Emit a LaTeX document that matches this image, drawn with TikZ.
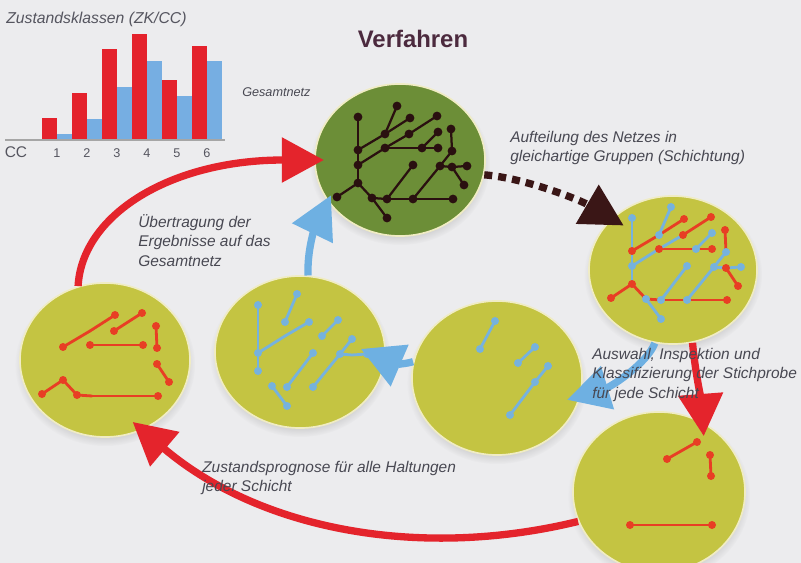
\documentclass[tikz,border=0pt]{standalone}
\usepackage{fontspec}
\setmainfont{Liberation Sans}
\usepackage{xcolor}
\usetikzlibrary{arrows.meta,shapes.geometric,shadows,fadings}

\definecolor{bgpaper}{RGB}{236,236,238}
\definecolor{olive}{RGB}{196,196,66}
\definecolor{netgreen}{RGB}{108,142,55}
\definecolor{netdark}{RGB}{42,16,16}
\definecolor{dashdark}{RGB}{58,22,22}
\definecolor{rim}{RGB}{240,236,196}
\definecolor{stratred}{RGB}{232,62,36}
\definecolor{stratblue}{RGB}{118,178,222}
\definecolor{arrred}{RGB}{228,36,44}
\definecolor{arrblue}{RGB}{110,176,226}
\definecolor{barred}{RGB}{228,34,44}
\definecolor{barblue}{RGB}{118,174,226}
\definecolor{labelgray}{RGB}{72,72,82}
\definecolor{chartgray}{RGB}{85,85,95}
\definecolor{titleplum}{RGB}{76,42,62}

\newcommand{\netpoints}{%
  \coordinate (a) at (-3,-54);  \coordinate (b) at (-42,-43);
  \coordinate (c) at (10,-42);  \coordinate (d) at (37,-44);
  \coordinate (e) at (-15,-26); \coordinate (f) at (9,-26);
  \coordinate (g) at (38,-28);  \coordinate (h) at (51,-31);
  \coordinate (i) at (-42,-10); \coordinate (j) at (-15,-12);
  \coordinate (k) at (22,-12);  \coordinate (l) at (38,-12);
  \coordinate (m) at (52,-9);   \coordinate (n) at (-42,5);
  \coordinate (o) at (13,5);    \coordinate (p) at (40,6);
  \coordinate (q) at (52,7);    \coordinate (r) at (67,6);
  \coordinate (s) at (-42,23);  \coordinate (t) at (64,25);
  \coordinate (u) at (-63,37);  \coordinate (v) at (-28,38);
  \coordinate (w) at (-13,39);  \coordinate (x) at (13,39);
  \coordinate (y) at (53,39);   \coordinate (z) at (-13,58);
}
\newcommand{\redsegs}{i/e,e/c,f/d,j/k,k/l,h/m,q/t,u/s,s/v,v/w,w/x,x/y}
\newcommand{\bluesegs}{b/i,i/n,n/s,n/j,j/f,a/e,k/g,m/p,p/x,p/q,q/r,o/w,v/z}

\begin{document}
\begin{tikzpicture}[x=0.025cm, y=-0.025cm,
    blob/.style={ellipse, draw=rim, line width=1.2pt, fill=olive, inner sep=0pt,
      circular drop shadow={shadow xshift=0pt, shadow yshift=-3pt, shadow scale=1.06, opacity=0.3}},
    lbl/.style={font=\fontsize{11}{13.8}\selectfont\itshape, text=labelgray, align=left, inner sep=0pt, anchor=north west},
    flow/.style={line width=5.2pt, -{Triangle[length=30pt, width=31pt]}},
    netline/.style={line width=1.6pt, line cap=round},
    stratline/.style={line width=2pt, line cap=round}
  ]
  \useasboundingbox (0,0) rectangle (801,563);
  \clip (0,0) rectangle (801,563);
  \fill[bgpaper] (0,0) rectangle (801,563);

  \node[anchor=north west, inner sep=0pt, font=\fontsize{11.2}{13}\selectfont\itshape, text=chartgray] (zktitle) at (6,12) {Zustandsklassen (ZK/CC)};
  \foreach \h [count=\i] in {22,47,91,106,60,94}
    \fill[barred] ({12+30*\i},140) rectangle ++(15,-\h);
  \foreach \h [count=\i] in {6,21,53,79,44,79}
    \fill[barblue] ({27+30*\i},140) rectangle ++(15,-\h);
  \draw[gray!70, line width=1pt] (5,140) -- (225,140);
  \node[anchor=base, font=\fontsize{11}{13}\selectfont, text=chartgray] (cc) at (16,158) {CC};
  \foreach \i in {1,...,6}
    \node[anchor=base, font=\fontsize{9}{11}\selectfont, text=chartgray] (cc\i) at ({27+30*\i},158) {\i};

  \node[anchor=base, font=\bfseries\fontsize{17}{20}\selectfont, text=titleplum] (title) at (413,48) {Verfahren};

  \node[blob, fill=netgreen, minimum width=4.25cm, minimum height=3.8cm] (dark) at (400,160) {};
  \node[blob, minimum width=4.2cm, minimum height=3.7cm] (split) at (673,270) {};
  \node[blob, minimum width=4.25cm, minimum height=3.85cm] (sample) at (497,378) {};
  \node[blob, minimum width=4.3cm, minimum height=4cm] (redsample) at (659,492) {};
  \node[blob, minimum width=4.25cm, minimum height=3.8cm] (blueres) at (300,352) {};
  \node[blob, minimum width=4.25cm, minimum height=3.85cm] (redres) at (105,360) {};

  \begin{scope}[shift={(400,160)}]
    \netpoints
    \foreach \u/\v in \redsegs \draw[netline, netdark] (\u) -- (\v);
    \foreach \u/\v in \bluesegs \draw[netline, netdark] (\u) -- (\v);
    \foreach \p in {a,...,z} \fill[netdark] (\p) circle (4.4);
  \end{scope}

  \begin{scope}[shift={(674,261)}]
    \netpoints
    \foreach \u/\v in \redsegs \draw[stratline, stratred] (\u) -- (\v);
    \foreach \u/\v in \bluesegs \draw[stratline, stratblue] (\u) -- (\v);
    \foreach \p in {c,d,f,h,i,j,l,q,s,t,u,y} \fill[stratred] (\p) circle (4);
    \foreach \p in {a,b,e,g,k,m,n,o,p,r,v,w,x,z} \fill[stratblue] (\p) circle (4);
  \end{scope}

  \begin{scope}[shift={(105,357)}]
    \netpoints
    \foreach \u/\v in \redsegs \draw[stratline, stratred] (\u) -- (\v);
    \foreach \p in {c,d,f,h,i,j,l,m,q,s,t,u,v,y} \fill[stratred] (\p) circle (4);
  \end{scope}

  \begin{scope}[shift={(300,348)}]
    \netpoints
    \foreach \u/\v in \bluesegs \draw[stratline, stratblue] (\u) -- (\v);
    \foreach \p in {a,b,e,f,g,k,m,n,o,p,r,s,v,w,x,z} \fill[stratblue] (\p) circle (4);
  \end{scope}

  \coordinate (s1) at (495,321); \coordinate (s2) at (480,349);
  \coordinate (s3) at (535,347); \coordinate (s4) at (518,363);
  \coordinate (s5) at (548,366); \coordinate (s6) at (535,382);
  \coordinate (s7) at (510,415);
  \foreach \u/\v in {s1/s2,s3/s4,s5/s6,s6/s7} \draw[stratline, stratblue] (\u) -- (\v);
  \foreach \p in {s1,s2,s3,s4,s5,s6,s7} \fill[stratblue] (\p) circle (4);

  \coordinate (r1) at (697,442); \coordinate (r2) at (667,459);
  \coordinate (r3) at (710,455); \coordinate (r4) at (711,476);
  \coordinate (r5) at (630,525); \coordinate (r6) at (712,525);
  \foreach \u/\v in {r1/r2,r3/r4,r5/r6} \draw[stratline, stratred] (\u) -- (\v);
  \foreach \p in {r1,r2,r3,r4,r5,r6} \fill[stratred] (\p) circle (4);

  \draw[flow, arrred, shorten >=-7pt] (redres.110) .. controls (82,215) and (170,160) .. (dark.180);
  \draw[flow, arrblue, shorten >=-5pt] (blueres.84) .. controls (307,250) and (315,228) .. (dark.210);
  \draw[flow, dashdark, dash pattern=on 5.7pt off 4.3pt, shorten >=-10pt] (dark.350) .. controls (525,178) and (580,200) .. (split.140);
  \draw[flow, arrred, shorten >=-10pt] (split.285) .. controls (695,370) and (701,400) .. (redsample.58);
  \draw[flow, arrblue, shorten >=-10pt] (split.256) .. controls (648,362) and (613,386) .. (sample.348);
  \draw[flow, arrblue, shorten >=-19pt] (sample.169) .. controls (406,364) and (396,364) .. (blueres.355);
  \draw[flow, arrred, shorten >=-9pt] (redsample.200) .. controls (420,560) and (260,530) .. (redres.298);

  \node[lbl, font=\fontsize{9}{11}\selectfont\itshape] (gesamt) at (242,87) {Gesamtnetz};
  \node[lbl] (aufteilung) at (510,131) {Aufteilung des Netzes in\\gleichartige Gruppen (Schichtung)};
  \node[lbl] (uebertragung) at (138,214) {Übertragung der\\Ergebnisse auf das\\Gesamtnetz};
  \node[lbl] (auswahl) at (592,348) {Auswahl, Inspektion und\\Klassifizierung der Stichprobe\\für jede Schicht};
  \node[lbl] (prognose) at (202,461) {Zustandsprognose für alle Haltungen\\jeder Schicht};
\end{tikzpicture}
\end{document}
